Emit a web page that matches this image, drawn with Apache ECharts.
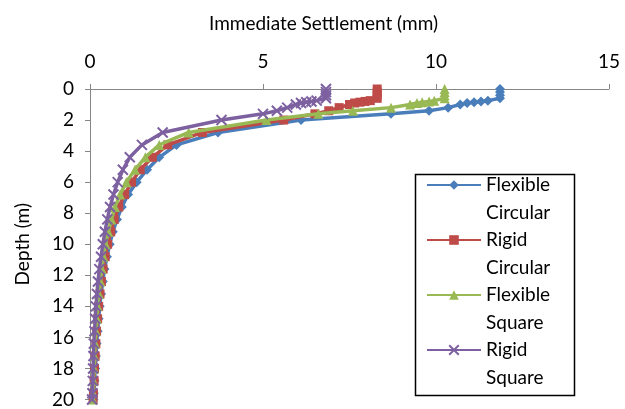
<!DOCTYPE html>
<html>
<head>
<meta charset="utf-8">
<script src="https://cdn.jsdelivr.net/npm/echarts@6/dist/echarts.min.js"></script>
<style>
html,body{margin:0;padding:0;background:#fff;}
#chart{width:625px;height:409px;}
</style>
</head>
<body>
<div id="chart"></div>
<script>
// ---- data ----
const depths = [0, 0.2, 0.4, 0.6, 0.75, 0.8, 0.85, 0.9, 1.0, 1.2, 1.4, 1.6, 2.0, 2.8, 3.6, 4.4, 5.2, 6.0, 6.8, 7.6, 8.4, 9.2, 10.0, 10.8, 11.6, 12.4, 13.2, 14.0, 14.8, 15.6, 16.4, 17.2, 18.0, 18.8, 19.6, 20.0];
const flexibleCircular = [11.85, 11.85, 11.85, 11.85, 11.5, 11.3, 11.1, 10.9, 10.7, 10.35, 9.8, 8.7, 6.1, 3.7, 2.5, 2.0, 1.65, 1.35, 1.1, 0.92, 0.78, 0.66, 0.57, 0.49, 0.42, 0.37, 0.32, 0.28, 0.25, 0.22, 0.19, 0.17, 0.15, 0.13, 0.11, 0.1];
const rigidCircular = [8.3, 8.3, 8.3, 8.3, 8.1, 7.95, 7.8, 7.65, 7.5, 7.2, 6.9, 6.5, 5.6, 3.25, 2.25, 1.8, 1.45, 1.2, 1.0, 0.83, 0.7, 0.6, 0.51, 0.44, 0.38, 0.33, 0.29, 0.25, 0.22, 0.19, 0.17, 0.15, 0.13, 0.12, 0.1, 0.09];
const flexibleSquare = [10.25, 10.25, 10.25, 10.25, 9.95, 9.8, 9.6, 9.45, 9.25, 8.7, 7.6, 6.6, 5.1, 2.85, 2.0, 1.6, 1.3, 1.05, 0.87, 0.72, 0.62, 0.53, 0.45, 0.39, 0.34, 0.3, 0.26, 0.22, 0.2, 0.17, 0.15, 0.13, 0.12, 0.1, 0.09, 0.08];
const rigidSquare = [6.82, 6.82, 6.82, 6.82, 6.55, 6.4, 6.25, 6.1, 5.95, 5.7, 5.4, 5.0, 3.8, 2.1, 1.5, 1.15, 0.95, 0.8, 0.68, 0.58, 0.5, 0.43, 0.37, 0.32, 0.27, 0.23, 0.2, 0.17, 0.15, 0.13, 0.11, 0.1, 0.09, 0.08, 0.07, 0.06];
const seriesNames = ['Flexible Circular', 'Rigid Circular', 'Flexible Square', 'Rigid Square'];
const xTicks = [0, 5, 10, 15];
const yTicks = [0, 2, 4, 6, 8, 10, 12, 14, 16, 18, 20];
const xTitle = 'Immediate Settlement (mm)';
const yTitle = 'Depth (m)';

const FONT = 'Lato';
const FS = 19;
const pairs = vals => vals.map((v, i) => [v, depths[i]]);
const seriesValues = [flexibleCircular, rigidCircular, flexibleSquare, rigidSquare];
const colors = ['#4A7EBB', '#BE4B48', '#98B954', '#7D60A0'];
const symbols = ['diamond', 'rect', 'triangle', 'path://M0,0L10,10M10,0L0,10'];
const symbolSizes = [10, 9, 10, 10];

const chart = echarts.init(document.getElementById('chart'), null, {renderer: 'canvas'});
chart.setOption({
  animation: false,
  backgroundColor: '#fff',
  grid: {left: 90, right: 16, top: 89, bottom: 9, containLabel: false},
  xAxis: {
    type: 'value', position: 'top', min: xTicks[0], max: xTicks[xTicks.length - 1], interval: 5,
    name: xTitle, nameLocation: 'middle', nameGap: 56,
    nameTextStyle: {fontFamily: FONT, fontSize: FS, color: '#000', padding: [0, 52, 0, 0]},
    axisLine: {show: true, lineStyle: {color: '#868686', width: 1}},
    axisTick: {show: true, length: 5, lineStyle: {color: '#868686'}},
    axisLabel: {fontFamily: FONT, fontSize: FS, color: '#000', margin: 18},
    splitLine: {show: false}
  },
  yAxis: {
    type: 'value', inverse: true, min: yTicks[0], max: yTicks[yTicks.length - 1], interval: 2,
    name: yTitle, nameLocation: 'middle', nameGap: 58, nameRotate: 90,
    nameTextStyle: {fontFamily: FONT, fontSize: FS, color: '#000'},
    axisLine: {show: true, lineStyle: {color: '#868686', width: 1}},
    axisTick: {show: true, length: 5, lineStyle: {color: '#868686'}},
    axisLabel: {fontFamily: FONT, fontSize: FS, color: '#000', margin: 16},
    splitLine: {show: false}
  },
  legend: {
    orient: 'vertical', left: 426, top: 143.75, padding: 0, itemGap: -27.5,
    itemWidth: 54, itemHeight: 12,
    data: seriesNames,
    formatter: n => '\n' + n.replace(' ', '\n'),
    textStyle: {fontFamily: FONT, fontSize: FS, color: '#000', lineHeight: 27.5}
  },
  graphic: [{
    type: 'rect', left: 413, top: 172, z: 100,
    shape: {width: 159, height: 221},
    style: {fill: 'none', stroke: '#000', lineWidth: 1.5}
  }],
  series: seriesNames.map((name, i) => ({
    name: name, type: 'line', data: pairs(seriesValues[i]),
    symbol: symbols[i], symbolSize: symbolSizes[i], showAllSymbol: true,
    lineStyle: {color: colors[i], width: 3.5},
    itemStyle: i === 3 ? {color: colors[i], borderColor: colors[i], borderWidth: 2} : {color: colors[i], borderColor: colors[i], borderWidth: 0},
    clip: false, z: 2 + i
  }))
});
</script>
</body>
</html>
